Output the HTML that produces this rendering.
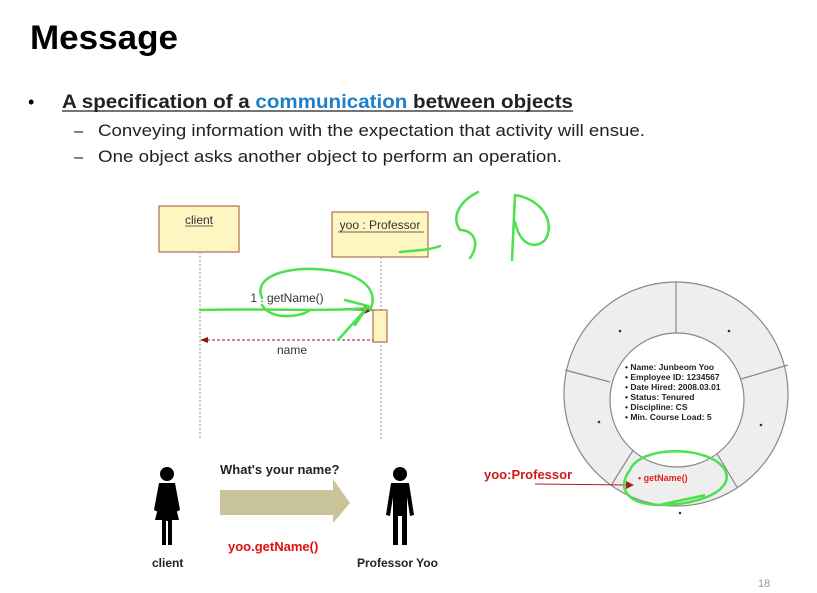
<!DOCTYPE html>
<html><head><meta charset="utf-8"><style>
body{margin:0;background:#fff;}
svg{display:block;font-family:"Liberation Sans",sans-serif;}
</style></head><body>
<svg width="817" height="593" viewBox="0 0 817 593">
<rect width="817" height="593" fill="#fff"/>
<text x="30" y="49" font-size="34" font-weight="bold" fill="#000" textLength="148" lengthAdjust="spacingAndGlyphs">Message</text>
<text x="28" y="108" font-size="18" fill="#000">•</text>
<text x="62" y="108" font-size="19.5" font-weight="bold" fill="#222" textLength="511" lengthAdjust="spacingAndGlyphs">A specification of a <tspan fill="#1f7fc8">communication</tspan> between objects</text>
<line x1="62" y1="111" x2="573" y2="111" stroke="#222" stroke-width="1.2"/>
<text x="74" y="136" font-size="16.5" fill="#222">–</text>
<text x="98" y="136" font-size="16.5" fill="#222" textLength="547" lengthAdjust="spacingAndGlyphs">Conveying information with the expectation that activity will ensue.</text>
<text x="74" y="162" font-size="16.5" fill="#222">–</text>
<text x="98" y="162" font-size="16.5" fill="#222" textLength="464" lengthAdjust="spacingAndGlyphs">One object asks another object to perform an operation.</text>

<!-- sequence diagram -->
<rect x="159" y="206" width="80" height="46" fill="#fdf6c0" stroke="#a0522d" stroke-width="1"/>
<text x="199" y="224" font-size="12" text-anchor="middle" fill="#333">client</text>
<line x1="185" y1="226" x2="213" y2="226" stroke="#333" stroke-width="0.8"/>
<rect x="332" y="212" width="96" height="45" fill="#fdf6c0" stroke="#a0522d" stroke-width="1"/>
<text x="380" y="229" font-size="12" text-anchor="middle" fill="#333">yoo : Professor</text>
<line x1="338" y1="232" x2="424" y2="232" stroke="#333" stroke-width="0.8"/>
<line x1="200" y1="252" x2="200" y2="440" stroke="#999" stroke-width="1" stroke-dasharray="2,2"/>
<line x1="381" y1="257" x2="381" y2="440" stroke="#999" stroke-width="1" stroke-dasharray="2,2"/>
<rect x="373" y="310" width="14" height="32" fill="#fdf6c0" stroke="#a0522d" stroke-width="1"/>
<line x1="200" y1="310" x2="366" y2="310" stroke="#8b1a1a" stroke-width="1"/>
<polygon points="373,310 364,306 364,314" fill="#8b1a1a"/>
<text x="287" y="302" font-size="12" text-anchor="middle" fill="#333">1 : getName()</text>
<line x1="207" y1="340" x2="373" y2="340" stroke="#8b1a1a" stroke-width="1" stroke-dasharray="3,2"/>
<polygon points="200,340 208,337 208,343" fill="#8b1a1a"/>
<text x="292" y="354" font-size="12" text-anchor="middle" fill="#333">name</text>

<!-- green scribbles -->
<g fill="none" stroke="#4ee04e" stroke-width="2.5" stroke-linecap="round">
<path d="M200,310 C260,308 320,312 370,308"/>
<path d="M262,298 C250,270 310,262 350,275 C375,285 375,300 370,310 M345,300 L368,306 L355,325 M365,310 L338,340"/>
<path d="M262,305 C270,320 300,318 310,310"/>
<path d="M400,252 C420,250 430,250 440,246 M478,192 C462,200 450,215 460,230 C475,230 480,245 470,258 M515,195 L512,260 M515,195 C545,200 555,225 545,240 C535,250 520,245 515,222"/>
</g>

<!-- circle -->
<circle cx="676" cy="394" r="112" fill="#eeeeee" stroke="#888" stroke-width="1.2"/>
<g stroke="#888" stroke-width="1.2">
<line x1="676" y1="282" x2="676" y2="334"/>
<line x1="741" y1="379" x2="788" y2="365"/>
<line x1="713" y1="447" x2="737" y2="487"/>
<line x1="637" y1="444" x2="612" y2="484"/>
<line x1="610" y1="382" x2="565" y2="370"/>
</g>
<circle cx="677" cy="400" r="67" fill="#fff" stroke="#888" stroke-width="1.2"/>
<g fill="#333"><circle cx="620" cy="331" r="1.3"/><circle cx="729" cy="331" r="1.3"/><circle cx="599" cy="422" r="1.3"/><circle cx="761" cy="425" r="1.3"/><circle cx="680" cy="513" r="1.3"/></g>
<g font-size="8.5" font-weight="bold" fill="#222">
<text x="625" y="370">•  Name: Junbeom Yoo</text>
<text x="625" y="380">•  Employee ID: 1234567</text>
<text x="625" y="390">•  Date Hired: 2008.03.01</text>
<text x="625" y="400">•  Status: Tenured</text>
<text x="625" y="410">•  Discipline: CS</text>
<text x="625" y="420">•  Min. Course Load: 5</text>
</g>
<text x="638" y="481" font-size="9" font-weight="bold" fill="#e02020">•  getName()</text>
<text x="484" y="479" font-size="13" font-weight="bold" fill="#d01818">yoo:Professor</text>
<line x1="535" y1="484" x2="628" y2="485" stroke="#a02020" stroke-width="1"/>
<polygon points="634,485 626,481 626,489" fill="#a02020"/>
<path d="M630,470 C640,445 710,445 725,470 C735,490 700,505 660,505 C630,505 615,490 630,470 M660,505 C680,500 695,498 705,495" fill="none" stroke="#4ee04e" stroke-width="2.5"/>

<!-- figures -->
<g fill="#000">
<circle cx="167" cy="474" r="7"/>
<path d="M159,483 L175,483 L180,510 L176,512 L174,500 L179,520 L172,520 L172,545 L168,545 L168,521 L166,521 L166,545 L162,545 L162,520 L155,520 L160,500 L158,512 L154,510 Z"/>
<circle cx="400" cy="474" r="7"/>
<path d="M391,483 L409,483 L414,515 L410,516 L407,497 L407,545 L402,545 L402,516 L398,516 L398,545 L393,545 L393,497 L390,516 L386,515 Z"/>
</g>
<polygon points="220,490 333,490 333,479 350,503 333,523 333,515 220,515" fill="#c9c39a"/>
<text x="220" y="474" font-size="13" font-weight="bold" fill="#222">What's your name?</text>
<text x="228" y="551" font-size="13" font-weight="bold" fill="#e01010">yoo.getName()</text>
<text x="152" y="567" font-size="12" font-weight="bold" fill="#222">client</text>
<text x="357" y="567" font-size="12" font-weight="bold" fill="#222">Professor Yoo</text>
<text x="758" y="587" font-size="11" fill="#999">18</text>
</svg>
</body></html>
